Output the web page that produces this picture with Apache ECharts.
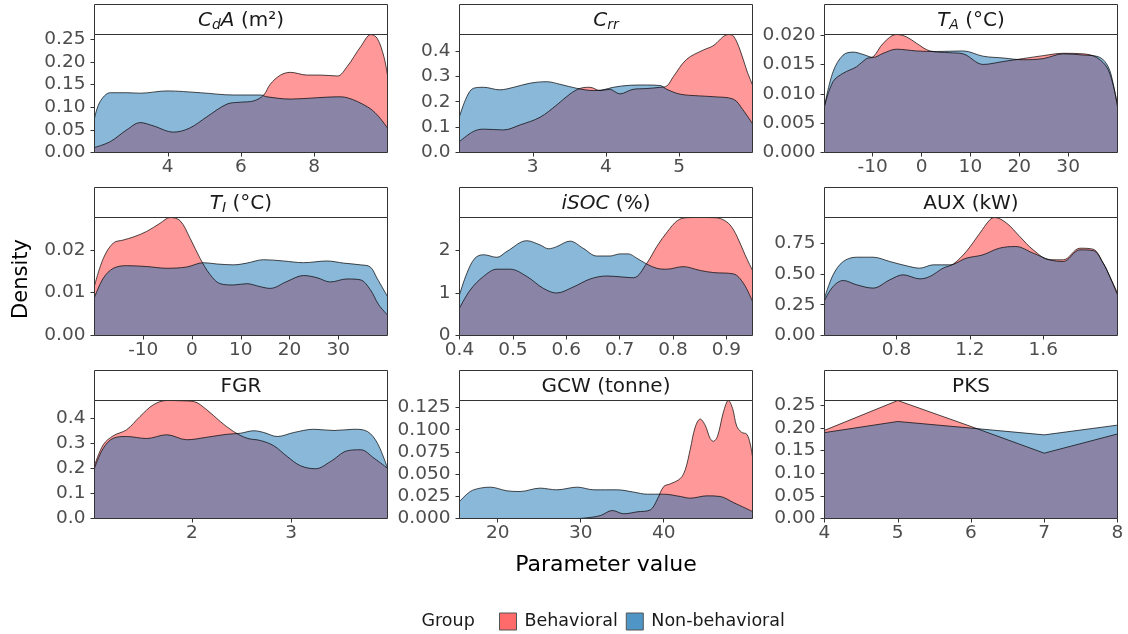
<!DOCTYPE html>
<html>
<head>
<meta charset="utf-8">
<script src="https://cdn.jsdelivr.net/npm/echarts@6/dist/echarts.min.js"></script>
<style>
  html, body { margin: 0; padding: 0; background: #ffffff; }
  #chart { width: 1128px; height: 634px; }
</style>
</head>
<body>
<div id="chart"></div>
<script>
// ---- Density estimates per parameter: [parameter value, density] ----
const cdaBehavioral = [[2.0,0.011],[2.43,0.024],[2.88,0.05],[3.25,0.066],[3.6,0.059],[4.16,0.045],[4.6,0.054],[5.07,0.079],[5.62,0.107],[5.98,0.111],[6.35,0.114],[6.62,0.127],[6.8,0.151],[7.08,0.171],[7.35,0.177],[7.8,0.171],[8.17,0.171],[8.63,0.169],[8.9,0.19],[9.27,0.234],[9.55,0.2606],[9.72,0.252],[9.9,0.212],[10.0,0.171]];
const cdaNonBehavioral = [[2.0,0.076],[2.15,0.112],[2.43,0.132],[2.88,0.132],[3.25,0.131],[3.98,0.136],[4.89,0.132],[5.8,0.127],[6.53,0.127],[6.71,0.123],[7.35,0.118],[8.08,0.121],[8.63,0.123],[8.9,0.121],[9.45,0.101],[9.72,0.083],[10.0,0.054]];

const crrBehavioral = [[2.0,0.043],[2.19,0.083],[2.33,0.092],[2.6,0.089],[2.83,0.109],[3.1,0.139],[3.33,0.188],[3.51,0.231],[3.65,0.253],[3.78,0.257],[3.92,0.244],[4.05,0.249],[4.19,0.231],[4.37,0.249],[4.55,0.252],[4.74,0.257],[4.83,0.262],[4.92,0.299],[5.1,0.367],[5.33,0.404],[5.46,0.42],[5.67,0.465],[5.74,0.459],[5.83,0.404],[5.92,0.325],[6.0,0.266]];
const crrNonBehavioral = [[2.0,0.142],[2.1,0.22],[2.19,0.253],[2.33,0.257],[2.55,0.247],[2.74,0.257],[2.96,0.273],[3.19,0.279],[3.37,0.269],[3.6,0.253],[3.83,0.244],[3.96,0.247],[4.1,0.257],[4.33,0.265],[4.55,0.266],[4.74,0.264],[4.83,0.249],[5.01,0.23],[5.28,0.223],[5.46,0.22],[5.74,0.21],[5.87,0.168],[6.0,0.113]];

const taBehavioral = [[-19.85,0.0079],[-18.08,0.0121],[-16.03,0.0135],[-13.3,0.0146],[-11.26,0.016],[-9.89,0.0163],[-7.84,0.0186],[-5.12,0.0201],[-3.07,0.0197],[-1.02,0.0186],[1.71,0.0173],[5.8,0.017],[8.53,0.0168],[12.62,0.015],[16.71,0.0155],[20.8,0.016],[24.9,0.0165],[29.0,0.0169],[33.08,0.0168],[35.8,0.0162],[38.2,0.0141],[40.1,0.0081]];
const taNonBehavioral = [[-19.85,0.0079],[-18.08,0.0138],[-16.03,0.0166],[-13.98,0.0171],[-11.94,0.0167],[-9.89,0.0162],[-7.84,0.0169],[-5.12,0.0176],[-1.02,0.0173],[3.07,0.0172],[8.53,0.0173],[12.62,0.0164],[16.71,0.0161],[20.8,0.0158],[24.9,0.016],[29.0,0.0168],[33.08,0.0166],[36.5,0.0162],[38.2,0.0146],[39.2,0.0118],[40.1,0.0078]];

const tiBehavioral = [[-20,0.0116],[-18.19,0.018],[-16.13,0.0216],[-14.08,0.0223],[-12.03,0.023],[-9.29,0.0243],[-6.55,0.0262],[-4.5,0.02755],[-2.44,0.0268],[-0.39,0.0227],[1.66,0.018],[3.72,0.0142],[5.77,0.0121],[8.5,0.0118],[11.24,0.0121],[13.98,0.0114],[16.03,0.011],[19.45,0.0126],[22.88,0.014],[25.62,0.0135],[28.36,0.0125],[31.78,0.0132],[34.52,0.013],[36.57,0.0107],[38.28,0.0072],[40.1,0.0048]];
const tiNonBehavioral = [[-20,0.0089],[-18.19,0.0134],[-16.13,0.0157],[-13.4,0.0163],[-9.29,0.0161],[-5.18,0.0157],[-1.07,0.016],[2.35,0.017],[5.09,0.0167],[8.5,0.0165],[11.24,0.0169],[14.67,0.0177],[18.77,0.0174],[22.88,0.017],[27.67,0.0174],[31.1,0.0169],[34.52,0.0165],[36.57,0.016],[37.94,0.0134],[40.1,0.0091]];

const isocBehavioral = [[0.4,0.643],[0.42,1.07],[0.445,1.39],[0.47,1.56],[0.495,1.56],[0.526,1.39],[0.557,1.11],[0.582,1.0],[0.613,1.14],[0.645,1.33],[0.676,1.4],[0.701,1.38],[0.726,1.36],[0.751,1.7],[0.77,2.1],[0.79,2.45],[0.808,2.7],[0.825,2.772],[0.85,2.776],[0.878,2.772],[0.893,2.73],[0.907,2.6],[0.92,2.33],[0.935,1.9],[0.949,1.53]];
const isocNonBehavioral = [[0.4,0.957],[0.414,1.47],[0.429,1.82],[0.445,1.9],[0.47,1.84],[0.489,1.98],[0.526,2.23],[0.551,2.13],[0.567,2.04],[0.582,2.09],[0.607,2.22],[0.632,2.05],[0.657,1.87],[0.682,1.87],[0.701,1.92],[0.716,1.92],[0.732,1.82],[0.751,1.68],[0.77,1.58],[0.788,1.56],[0.819,1.62],[0.851,1.53],[0.876,1.48],[0.913,1.45],[0.932,1.23],[0.949,0.8]];

const auxBehavioral = [[0.407,0.284],[0.454,0.398],[0.509,0.447],[0.582,0.412],[0.672,0.385],[0.763,0.452],[0.836,0.493],[0.927,0.46],[0.981,0.479],[1.054,0.547],[1.109,0.58],[1.18,0.682],[1.254,0.831],[1.309,0.94],[1.336,0.9585],[1.4,0.913],[1.472,0.804],[1.545,0.696],[1.636,0.615],[1.709,0.615],[1.8,0.709],[1.872,0.701],[1.927,0.588],[1.963,0.479],[2.005,0.344]];
const auxNonBehavioral = [[0.407,0.303],[0.454,0.493],[0.509,0.601],[0.582,0.636],[0.672,0.636],[0.763,0.601],[0.854,0.566],[0.927,0.547],[1.0,0.574],[1.09,0.574],[1.18,0.628],[1.27,0.655],[1.36,0.709],[1.45,0.723],[1.545,0.669],[1.636,0.615],[1.709,0.601],[1.8,0.696],[1.872,0.69],[1.927,0.588],[1.963,0.479],[2.005,0.33]];

const fgrBehavioral = [[1.02,0.211],[1.108,0.295],[1.209,0.331],[1.343,0.355],[1.478,0.408],[1.613,0.455],[1.747,0.472],[1.882,0.471],[2.017,0.468],[2.15,0.435],[2.286,0.388],[2.42,0.348],[2.556,0.321],[2.69,0.312],[2.825,0.291],[2.96,0.248],[3.094,0.211],[3.246,0.199],[3.397,0.228],[3.566,0.271],[3.7,0.275],[3.835,0.241],[3.97,0.201]];
const fgrNonBehavioral = [[1.02,0.201],[1.108,0.281],[1.209,0.321],[1.343,0.328],[1.545,0.32],[1.747,0.335],[1.95,0.315],[2.15,0.325],[2.354,0.337],[2.488,0.341],[2.623,0.351],[2.724,0.344],[2.86,0.328],[3.027,0.344],[3.229,0.357],[3.431,0.352],[3.633,0.357],[3.768,0.348],[3.869,0.301],[3.97,0.201]];

const gcwBehavioral = [[15.4,0],[20,0],[25,0],[29.6,0],[30.8,0.0008],[32.4,0.0034],[33.8,0.009],[35.2,0.0053],[36.8,0.0075],[38.4,0.0098],[39.2,0.021],[40,0.036],[40.8,0.039],[42.0,0.045],[42.6,0.055],[43.2,0.078],[43.8,0.103],[44.4,0.112],[45.0,0.105],[45.6,0.09],[46.0,0.087],[46.5,0.093],[47.2,0.12],[47.8,0.1329],[48.3,0.124],[48.8,0.104],[49.4,0.097],[50.0,0.095],[50.4,0.085],[50.7,0.0698]];
const gcwNonBehavioral = [[15.4,0.0191],[16.7,0.0304],[17.9,0.0342],[19.1,0.0353],[21.1,0.0312],[22.7,0.0304],[25.1,0.0342],[27.1,0.0323],[29.6,0.0353],[31.6,0.0323],[34.4,0.0323],[36.4,0.0297],[38.0,0.0274],[40.0,0.0274],[42.0,0.0248],[43.2,0.0229],[45.2,0.0255],[46.8,0.0248],[48.4,0.018],[50.7,0.0079]];

const pksLevels = [4, 5, 6, 7, 8];
const pksBehavioral = [0.195, 0.261, 0.2035, 0.1445, 0.187];
const pksNonBehavioral = [0.19, 0.2146, 0.2, 0.185, 0.2065];

// ---- Tick labels ----
const cdaXTicks = ['4','6','8'];
const cdaYTicks = ['0.00','0.05','0.10','0.15','0.20','0.25'];
const crrXTicks = ['3','4','5'];
const crrYTicks = ['0.0','0.1','0.2','0.3','0.4'];
const tempXTicks = ['-10','0','10','20','30'];
const taYTicks = ['0.000','0.005','0.010','0.015','0.020'];
const tiYTicks = ['0.00','0.01','0.02'];
const isocXTicks = ['0.4','0.5','0.6','0.7','0.8','0.9'];
const isocYTicks = ['0','1','2'];
const auxXTicks = ['0.8','1.2','1.6'];
const auxYTicks = ['0.00','0.25','0.50','0.75'];
const fgrXTicks = ['2','3'];
const fgrYTicks = ['0.0','0.1','0.2','0.3','0.4'];
const gcwXTicks = ['20','30','40'];
const gcwYTicks = ['0.000','0.025','0.050','0.075','0.100','0.125'];
const pksXTicks = ['4','5','6','7','8'];
const pksYTicks = ['0.00','0.05','0.10','0.15','0.20','0.25'];

const groups = ['Behavioral', 'Non-behavioral'];

// ---- Facet definitions ----
const panels = [
  { title: '{i|C}{s|d}{i|A} (m²)', beh: cdaBehavioral, non: cdaNonBehavioral, xt: cdaXTicks, yt: cdaYTicks, smooth: true },
  { title: '{i|C}{s|rr}', beh: crrBehavioral, non: crrNonBehavioral, xt: crrXTicks, yt: crrYTicks, smooth: true },
  { title: '{i|T}{s|A} (°C)', beh: taBehavioral, non: taNonBehavioral, xt: tempXTicks, yt: taYTicks, smooth: true },
  { title: '{i|T}{s|I} (°C)', beh: tiBehavioral, non: tiNonBehavioral, xt: tempXTicks, yt: tiYTicks, smooth: true },
  { title: '{i|iSOC} (%)', beh: isocBehavioral, non: isocNonBehavioral, xt: isocXTicks, yt: isocYTicks, smooth: true },
  { title: 'AUX (kW)', beh: auxBehavioral, non: auxNonBehavioral, xt: auxXTicks, yt: auxYTicks, smooth: true },
  { title: 'FGR', beh: fgrBehavioral, non: fgrNonBehavioral, xt: fgrXTicks, yt: fgrYTicks, smooth: true },
  { title: 'GCW (tonne)', beh: gcwBehavioral, non: gcwNonBehavioral, xt: gcwXTicks, yt: gcwYTicks, smooth: true },
  { title: 'PKS', beh: pksLevels.map((x, k) => [x, pksBehavioral[k]]), non: pksLevels.map((x, k) => [x, pksNonBehavioral[k]]), xt: pksXTicks, yt: pksYTicks, smooth: false }
];

// ---- Layout ----
const FONT = 'DejaVu Sans';
const PANEL_LEFT0 = 94.5, COL_STEP = 365, PANEL_TOP0 = 34.5, ROW_STEP = 183;
const PANEL_W = 293, PANEL_H = 118, STRIP_H = 30;
const TICK_FONT = 18.5;
const FILL = { 'Behavioral': '#FF3333', 'Non-behavioral': '#1571B3' };
const KEY = { 'Behavioral': '#FF6B6B', 'Non-behavioral': '#4F95C6' };

const labelFor = labels => v => {
  const hit = labels.find(s => Math.abs(Number(s) - v) < 1e-9);
  return hit === undefined ? '' : hit;
};

const grids = [], xAxes = [], yAxes = [], series = [], graphics = [];

panels.forEach((p, i) => {
  const col = i % 3, row = Math.floor(i / 3);
  const left = PANEL_LEFT0 + col * COL_STEP;
  const top = PANEL_TOP0 + row * ROW_STEP;
  grids.push({ left, top, width: PANEL_W, height: PANEL_H, containLabel: false });

  xAxes.push({
    type: 'value', gridIndex: i, min: 'dataMin', max: 'dataMax', position: 'bottom',
    axisLine: { show: false, onZero: false }, splitLine: { show: false },
    axisTick: { show: true, length: 4, customValues: p.xt.map(Number), lineStyle: { color: '#333333', width: 1 } },
    axisLabel: { customValues: p.xt.map(Number), formatter: labelFor(p.xt), margin: 5,
                 fontFamily: FONT, fontSize: TICK_FONT, color: '#4D4D4D' }
  });
  yAxes.push({
    type: 'value', gridIndex: i, min: 0, max: v => v.max, position: 'left',
    axisLine: { show: false, onZero: false }, splitLine: { show: false },
    axisTick: { show: true, length: 4, customValues: p.yt.map(Number), lineStyle: { color: '#333333', width: 1 } },
    axisLabel: { customValues: p.yt.map(Number), formatter: labelFor(p.yt), margin: 9,
                 fontFamily: FONT, fontSize: TICK_FONT, color: '#4D4D4D' }
  });

  [['Behavioral', p.beh], ['Non-behavioral', p.non]].forEach(([name, data]) => {
    series.push({
      type: 'line', name, xAxisIndex: i, yAxisIndex: i, data,
      smooth: p.smooth ? 0.35 : false, symbol: 'none', showSymbol: false,
      silent: true, animation: false,
      itemStyle: { color: FILL[name] },
      lineStyle: { color: '#000000', width: 0.7 },
      areaStyle: { color: FILL[name], opacity: 0.5 }
    });
  });

  // facet strip
  graphics.push({
    type: 'rect', z: 100, silent: true,
    shape: { x: left, y: top - STRIP_H, width: PANEL_W, height: STRIP_H },
    style: { fill: '#ffffff', stroke: '#333333', lineWidth: 1 }
  });
  graphics.push({
    type: 'text', z: 101, silent: true, x: left + PANEL_W / 2, y: top - STRIP_H / 2 + 1,
    style: {
      text: p.title, align: 'center', verticalAlign: 'middle',
      fontFamily: FONT, fontSize: 20, fill: '#1A1A1A',
      rich: {
        i: { fontFamily: FONT, fontSize: 20, fontStyle: 'italic', fill: '#1A1A1A' },
        s: { fontFamily: FONT, fontSize: 14, fontStyle: 'italic', fill: '#1A1A1A', padding: [10, 0, 0, 0] }
      }
    }
  });
  // panel border
  graphics.push({
    type: 'rect', z: 100, silent: true,
    shape: { x: left, y: top, width: PANEL_W, height: PANEL_H },
    style: { fill: null, stroke: '#333333', lineWidth: 1 }
  });
});

graphics.push({
  type: 'text', silent: true, x: 22, y: 279, rotation: Math.PI / 2,
  style: { text: 'Density', align: 'center', verticalAlign: 'middle', fontFamily: FONT, fontSize: 21, fill: '#000000' }
});
graphics.push({
  type: 'text', silent: true, x: 606, y: 565,
  style: { text: 'Parameter value', align: 'center', verticalAlign: 'middle', fontFamily: FONT, fontSize: 22, fill: '#000000' }
});
graphics.push({
  type: 'text', silent: true, x: 421.5, y: 621,
  style: { text: 'Group', align: 'left', verticalAlign: 'middle', fontFamily: FONT, fontSize: 17.5, fill: '#1A1A1A' }
});

const chart = echarts.init(document.getElementById('chart'), null, { renderer: 'canvas' });
chart.setOption({
  backgroundColor: '#ffffff',
  animation: false,
  grid: grids,
  xAxis: xAxes,
  yAxis: yAxes,
  series,
  graphic: graphics,
  legend: {
    left: 499, top: 612.5, padding: 0, itemWidth: 17, itemHeight: 17, itemGap: 8,
    icon: 'rect', selectedMode: false,
    textStyle: { fontFamily: FONT, fontSize: 17.5, color: '#1A1A1A', padding: [0, 0, 0, 3] },
    data: groups.map(g => ({ name: g, itemStyle: { color: KEY[g], borderColor: '#555555', borderWidth: 1 } }))
  }
});
</script>
</body>
</html>
